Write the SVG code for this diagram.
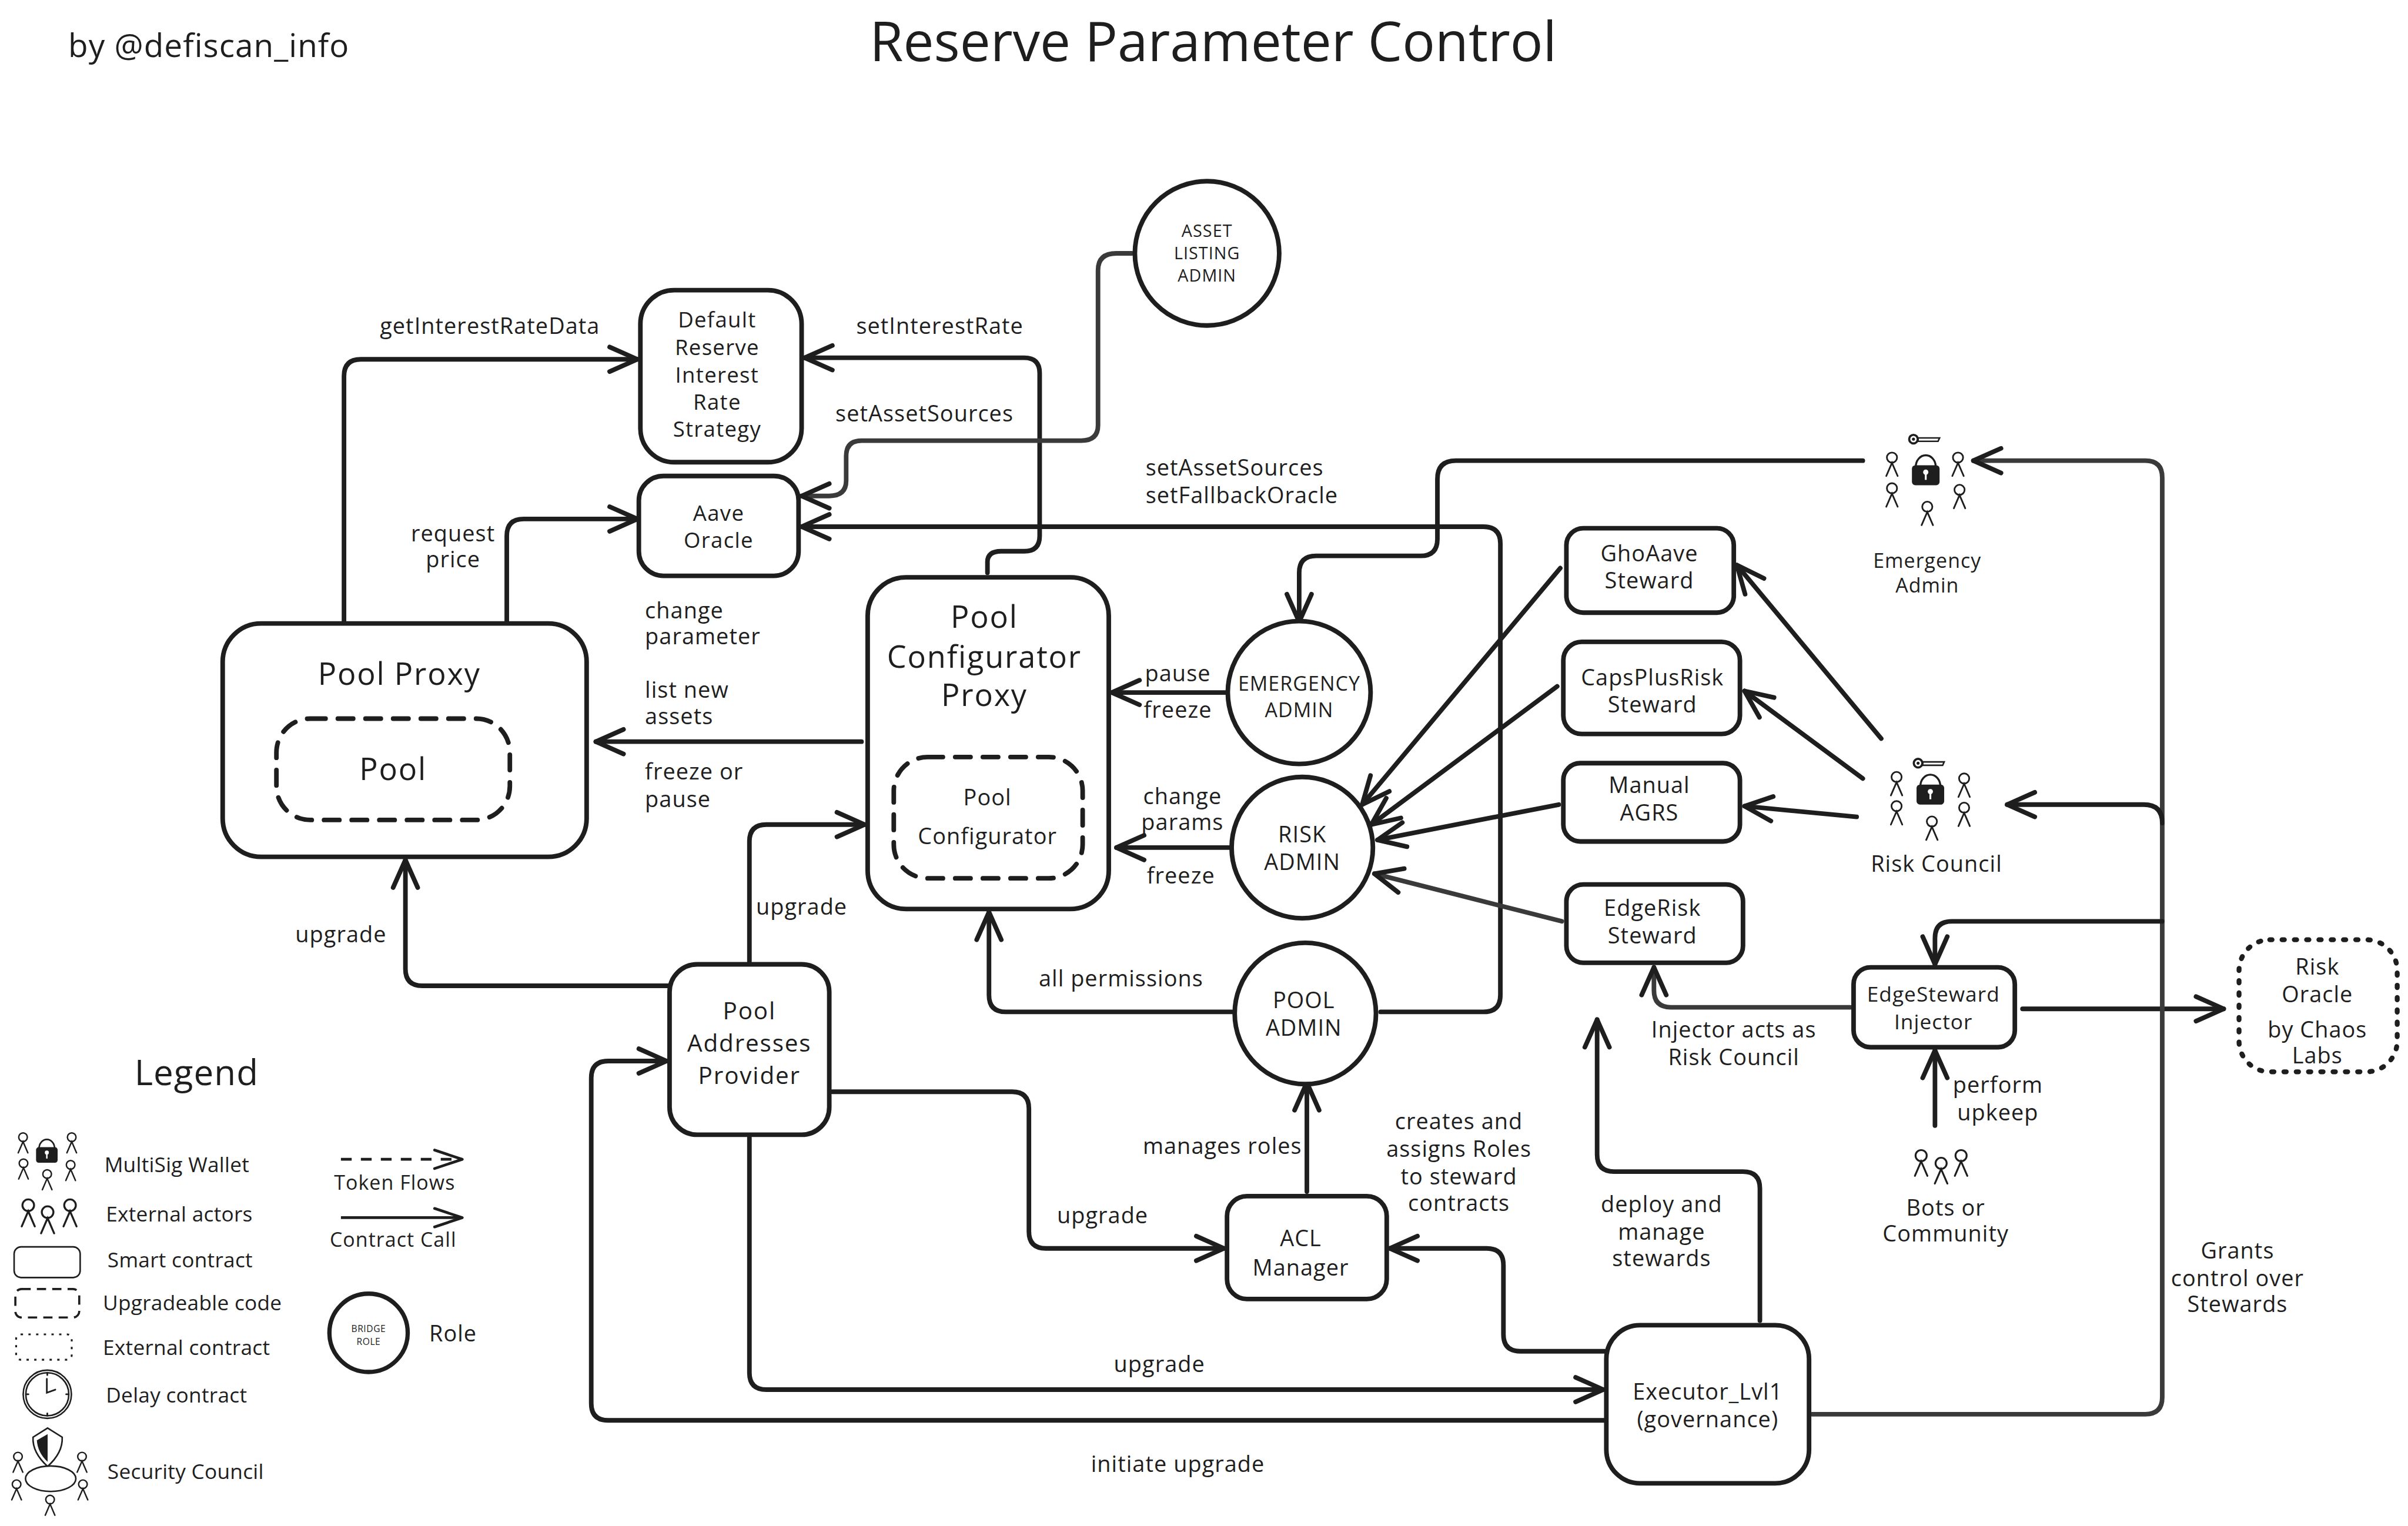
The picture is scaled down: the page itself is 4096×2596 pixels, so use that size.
<svg xmlns="http://www.w3.org/2000/svg" xmlns:xlink="http://www.w3.org/1999/xlink" width="4096" height="2596" viewBox="0 0 4096 2596">
<style>
text{font-family:"Open Sans","Noto Sans",sans-serif;fill:#1e1e1e;text-anchor:middle;dominant-baseline:central;font-size:14.5px;letter-spacing:.4px}
.l{text-anchor:start}
.s{font-size:14px;letter-spacing:.5px}
.m{font-size:15.5px;letter-spacing:.7px}
.b{font-size:20px;letter-spacing:.7px}
.k{font-size:13.5px;letter-spacing:.1px}
.box{fill:#fff;stroke:#1e1e1e;stroke-width:3}
.dash{fill:none;stroke:#1e1e1e;stroke-width:3;stroke-dasharray:10 8;stroke-linecap:round}
.dot{fill:#fff;stroke:#1e1e1e;stroke-width:3.2;stroke-dasharray:1.5 6.5;stroke-linecap:round}
.c{fill:none;stroke:#1e1e1e;stroke-width:3;stroke-linecap:round;stroke-linejoin:round}
.g{stroke:#3a3a3a}
.a{marker-end:url(#ah)}
.thin{fill:none;stroke:#1e1e1e;stroke-width:1.1;stroke-linecap:round}
</style>
<defs>
<marker id="ah" markerUnits="userSpaceOnUse" markerWidth="30" markerHeight="30" refX="21" refY="12" orient="auto" overflow="visible"><path d="M3,4 L21,12 L3,20" fill="none" stroke="#1e1e1e" stroke-width="3" stroke-linecap="round" stroke-linejoin="round"/></marker>
<marker id="ahl" markerUnits="userSpaceOnUse" markerWidth="30" markerHeight="30" refX="21" refY="12" orient="auto" overflow="visible"><path d="M3,6 L21,12 L3,18" fill="none" stroke="#1e1e1e" stroke-width="1.8" stroke-linecap="round" stroke-linejoin="round"/></marker>
<g id="person"><circle cx="0" cy="-4" r="3.3" fill="#fff" stroke="#1e1e1e" stroke-width="1.1"/><path d="M-3.7,8 L0,-0.6 L3.7,8" fill="none" stroke="#1e1e1e" stroke-width="1.1" stroke-linecap="round"/></g>
<g id="lock"><path d="M-6.5,-4 A6.5,7.5 0 0 1 6.5,-4" fill="none" stroke="#1e1e1e" stroke-width="1.3"/><rect x="-9" y="-5" width="18" height="13" rx="2.2" fill="#1e1e1e"/><circle cx="0" cy="-0.5" r="1.7" fill="#fff"/><rect x="-0.6" y="-0.5" width="1.2" height="5" fill="#fff"/></g>
<g id="key"><circle cx="-7" cy="0" r="2.8" fill="none" stroke="#1e1e1e" stroke-width="1.4"/><circle cx="-7" cy="0" r="1" fill="#1e1e1e"/><path d="M-4,-0.8 H10 L9,1.4 H-4 Z" fill="none" stroke="#1e1e1e" stroke-width="1"/></g>
</defs>
<rect width="4096" height="2596" fill="#fff"/>
<g transform="scale(2.6122)">
<g id="connectors">
<path class="c a" d="M224,405 V245 Q224,234 235,234 H415"/>
<path class="c a" d="M330,405 V349 Q330,338 341,338 H415"/>
<path class="c a" d="M643,373 V366 Q643,359 652,359 H667 Q677,359 677,349 V243 Q677,233 667,233 H524"/>
<path class="c g a" d="M737,165 H727 Q715,165 715,176 V277 Q715,287 704,287 H561 Q551,287 551,297 V313 Q551,323 540,323 H522"/>
<path class="c a" d="M899,659 H966 Q977,659 977,648 V354 Q977,343 966,343 H522"/>
<path class="c a" d="M561,483 H388"/>
<path class="c a" d="M801,451 H724"/>
<path class="c a" d="M802,552 H727"/>
<path class="c a" d="M802,659 H655 Q644,659 644,648 V594"/>
<path class="c a" d="M1213,300 H948 Q936,300 936,312 V351 Q936,362 925,362 H857 Q846,362 846,373 V405"/>
<path class="c a" d="M1225,481 L1131,368"/>
<path class="c a" d="M1213,507 L1136,450"/>
<path class="c a" d="M1209,532 L1136,525"/>
<path class="c a" d="M1016,370 L887,524"/>
<path class="c a" d="M1014,447 L893,537"/>
<path class="c a" d="M1015,524 L897,547"/>
<path class="c g a" d="M1017,600 L895,569"/>
<path class="c g a" d="M1205,656 H1088 Q1077,656 1077,645 V630"/>
<path class="c a" d="M1146,860 V774 Q1146,763 1135,763 H1051 Q1040,763 1040,752 V664"/>
<path class="c a" d="M1317,657 H1448"/>
<path class="c a" d="M1260,733 V684"/>
<path class="c g a" d="M1180,921 H1397 Q1408,921 1408,910 V311 Q1408,300 1397,300 H1285"/>
<path class="c a" d="M1408,536 Q1408,524 1396,524 H1307"/>
<path class="c a" d="M1408,600 H1271 Q1260,600 1260,611 V628"/>
<path class="c a" d="M1045,925 H396 Q385,925 385,914 V702 Q385,691 396,691 H434"/>
<path class="c a" d="M488,741 V894 Q488,905 499,905 H1044"/>
<path class="c a" d="M542,711 H659 Q670,711 670,722 V802 Q670,813 681,813 H797"/>
<path class="c a" d="M435,642 H275 Q264,642 264,631 V560"/>
<path class="c a" d="M488,626 V548 Q488,537 499,537 H563"/>
<path class="c a" d="M851,776 V705"/>
<path class="c a" d="M1045,880 H990 Q979,880 979,869 V824 Q979,813 968,813 H905"/>
</g>

<g id="labels">
<text x="319" y="212">getInterestRateData</text>
<text x="295" y="347">request</text><text x="295" y="364">price</text>
<text x="612" y="212">setInterestRate</text>
<text x="602" y="269">setAssetSources</text>
<text class="l" x="746" y="304">setAssetSources</text><text class="l" x="746" y="322">setFallbackOracle</text>
<text class="l" x="420" y="397">change</text><text class="l" x="420" y="414">parameter</text>
<text class="l" x="420" y="449">list new</text><text class="l" x="420" y="466">assets</text>
<text class="l" x="420" y="502">freeze or</text><text class="l" x="420" y="520">pause</text>
<text x="767" y="438">pause</text><text x="767" y="462">freeze</text>
<text x="770" y="518">change</text><text x="770" y="535">params</text><text x="769" y="570">freeze</text>
<text x="730" y="637">all permissions</text>
<text x="222" y="608">upgrade</text><text x="522" y="590">upgrade</text>
<text x="718" y="791">upgrade</text><text x="755" y="888">upgrade</text>
<text x="767" y="953">initiate upgrade</text>
<text x="796" y="746">manages roles</text>
<text x="950" y="730">creates and</text><text x="950" y="748">assigns Roles</text><text x="950" y="766">to steward</text><text x="950" y="783">contracts</text>
<text x="1082" y="784">deploy and</text><text x="1082" y="802">manage</text><text x="1082" y="819">stewards</text>
<text x="1129" y="670">Injector acts as</text><text x="1129" y="688">Risk Council</text>
<text x="1301" y="706">perform</text><text x="1301" y="724">upkeep</text>
<text x="1457" y="814">Grants</text><text x="1457" y="832">control over</text><text x="1457" y="849">Stewards</text>
</g>

<g id="title"><text x="790" y="26" style="font-size:35.5px;letter-spacing:0">Reserve Parameter Control</text></g>
<g id="byline"><text x="136" y="29" style="font-size:21px">by @defiscan_info</text></g>

<g id="default-reserve"><rect class="box" x="417" y="189" width="105" height="112" rx="22"/><text class="s" x="467" y="208">Default</text><text class="s" x="467" y="226">Reserve</text><text class="s" x="467" y="244">Interest</text><text class="s" x="467" y="261.5">Rate</text><text class="s" x="467" y="279">Strategy</text></g>
<g id="aave-oracle"><rect class="box" x="416" y="310" width="104" height="65" rx="16"/><text class="s" x="468" y="334">Aave</text><text class="s" x="468" y="351.5">Oracle</text></g>
<g id="pool-proxy"><rect class="box" x="145" y="406" width="237" height="152" rx="25"/><text class="b" x="260" y="438">Pool Proxy</text><rect class="dash" x="180" y="468" width="152" height="66" rx="22"/><text class="b" x="256" y="500">Pool</text></g>
<g id="pool-configurator-proxy"><rect class="box" x="565" y="376" width="157" height="216" rx="25"/><text class="b" x="641" y="401">Pool</text><text class="b" x="641" y="427">Configurator</text><text class="b" x="641" y="452">Proxy</text><rect class="dash" x="582" y="493" width="123" height="79" rx="22"/><text x="643" y="519">Pool</text><text x="643" y="544">Configurator</text></g>
<g id="asset-listing-admin"><circle class="box" cx="786" cy="165" r="47"/><text x="786" y="150" style="font-size:11px">ASSET</text><text x="786" y="164.5" style="font-size:11px">LISTING</text><text x="786" y="179" style="font-size:11px">ADMIN</text></g>
<g id="emergency-admin"><circle class="box" cx="846" cy="451" r="46.5"/><text x="846" y="445" style="font-size:13px">EMERGENCY</text><text x="846" y="462" style="font-size:13px">ADMIN</text></g>
<g id="risk-admin"><circle class="box" cx="848" cy="552" r="46"/><text x="848" y="543">RISK</text><text x="848" y="561">ADMIN</text></g>
<g id="pool-admin"><circle class="box" cx="850" cy="660" r="46"/><text x="849" y="651">POOL</text><text x="849" y="669">ADMIN</text></g>
<g id="acl-manager"><rect class="box" x="799" y="779" width="104" height="67" rx="13"/><text x="847" y="806">ACL</text><text x="847" y="825">Manager</text></g>
<g id="pool-addresses-provider"><rect class="box" x="436" y="628" width="104" height="111" rx="18"/><text class="m" x="488" y="658">Pool</text><text class="m" x="488" y="679">Addresses</text><text class="m" x="488" y="700">Provider</text></g>
<g id="executor"><rect class="box" x="1046" y="863" width="132" height="103" rx="22"/><text x="1112" y="906">Executor_Lvl1</text><text x="1112" y="924">(governance)</text></g>
<g id="gho-aave"><rect class="box" x="1020" y="344" width="109" height="55" rx="11"/><text x="1074" y="360">GhoAave</text><text x="1074" y="377.5">Steward</text></g>
<g id="caps-plus-risk"><rect class="box" x="1018" y="418" width="115" height="60" rx="12"/><text x="1076" y="441">CapsPlusRisk</text><text x="1076" y="458.5">Steward</text></g>
<g id="manual-agrs"><rect class="box" x="1018" y="497" width="115" height="51" rx="11"/><text x="1074" y="511">Manual</text><text x="1074" y="529">AGRS</text></g>
<g id="edge-risk"><rect class="box" x="1020" y="576" width="115" height="51" rx="11"/><text x="1076" y="591">EdgeRisk</text><text x="1076" y="609">Steward</text></g>
<g id="edge-injector"><rect class="box" x="1207" y="630" width="105" height="52" rx="11"/><text x="1259" y="647" style="font-size:13.5px">EdgeSteward</text><text x="1259" y="665" style="font-size:13.5px">Injector</text></g>
<g id="risk-oracle"><rect class="dot" x="1458" y="612" width="103" height="86" rx="20"/><text x="1509" y="629">Risk</text><text x="1509" y="647">Oracle</text><text x="1509" y="670">by Chaos</text><text x="1509" y="687">Labs</text></g>

<g id="emergency-multisig"><use xlink:href="#key" href="#key" x="1253" y="286"/><use href="#lock" xlink:href="#lock" x="1254" y="308"/><use href="#person" xlink:href="#person" x="1232" y="302"/><use href="#person" xlink:href="#person" x="1275" y="302"/><use href="#person" xlink:href="#person" x="1232" y="322"/><use href="#person" xlink:href="#person" x="1276" y="323"/><use href="#person" xlink:href="#person" x="1255" y="334"/><text x="1255" y="365" style="font-size:13px">Emergency</text><text x="1255" y="381" style="font-size:13px">Admin</text></g>
<g id="risk-council"><use href="#key" xlink:href="#key" x="1256" y="497"/><use href="#lock" xlink:href="#lock" x="1257" y="516"/><use href="#person" xlink:href="#person" x="1235" y="510"/><use href="#person" xlink:href="#person" x="1279" y="511"/><use href="#person" xlink:href="#person" x="1235" y="529"/><use href="#person" xlink:href="#person" x="1279" y="530"/><use href="#person" xlink:href="#person" x="1258" y="539"/><text x="1261" y="562">Risk Council</text></g>
<g id="bots-community"><use href="#person" xlink:href="#person" transform="translate(1251,757) scale(1.1)"/><use href="#person" xlink:href="#person" transform="translate(1264,762) scale(1.1)"/><use href="#person" xlink:href="#person" transform="translate(1277,757) scale(1.1)"/><text x="1267" y="786">Bots or</text><text x="1267" y="803">Community</text></g>

<g id="legend">
<text x="128" y="698" style="font-size:23px">Legend</text>
<use href="#lock" xlink:href="#lock" transform="translate(30.5,751) scale(.78)"/>
<use href="#person" xlink:href="#person" transform="translate(15,744) scale(.85)"/><use href="#person" xlink:href="#person" transform="translate(46.7,744) scale(.85)"/><use href="#person" xlink:href="#person" transform="translate(15.3,761) scale(.85)"/><use href="#person" xlink:href="#person" transform="translate(46,762) scale(.85)"/><use href="#person" xlink:href="#person" transform="translate(30.7,768) scale(.85)"/>
<text class="l k" x="68" y="758">MultiSig Wallet</text>
<use href="#person" xlink:href="#person" transform="translate(18.4,789.5) scale(1.15)"/><use href="#person" xlink:href="#person" transform="translate(31,794) scale(1.15)"/><use href="#person" xlink:href="#person" transform="translate(45.6,789.5) scale(1.15)"/>
<text class="l k" x="69" y="790">External actors</text>
<rect x="9.2" y="812" width="43" height="20" rx="4.5" fill="#fff" stroke="#1e1e1e" stroke-width="1"/>
<text class="l k" x="70" y="820">Smart contract</text>
<rect x="10" y="839.5" width="41.6" height="18.5" rx="4" fill="none" stroke="#1e1e1e" stroke-width="1.4" stroke-dasharray="6 4"/>
<text class="l k" x="67" y="848">Upgradeable code</text>
<rect x="10.5" y="869" width="36.2" height="16.5" rx="3" fill="none" stroke="#1e1e1e" stroke-width="1.2" stroke-dasharray="1.5 3.5"/>
<text class="l k" x="67" y="877">External contract</text>
<circle cx="30.8" cy="908" r="15.7" fill="none" stroke="#1e1e1e" stroke-width="1"/><circle cx="30.8" cy="908" r="14" fill="none" stroke="#1e1e1e" stroke-width="1"/><path class="thin" d="M30.5,898 V907 L36,905 M30.8,894 v1.5 M30.8,922 v-1.5 M17,908 h1.5 M44.6,908 h-1.5"/>
<text class="l k" x="69" y="908">Delay contract</text>
<path d="M31,930 L40.5,936 Q41,946 31,955 Q21,946 21.5,936 Z" fill="#fff" stroke="#1e1e1e" stroke-width="1"/><path d="M31,934 L24,938 Q24.5,946 31,952 Z" fill="#1e1e1e"/>
<ellipse cx="33" cy="963" rx="16.4" ry="8.3" fill="#fff" stroke="#1e1e1e" stroke-width="1"/>
<use href="#person" xlink:href="#person" transform="translate(11.7,952) scale(.85)"/><use href="#person" xlink:href="#person" transform="translate(53.4,952) scale(.85)"/><use href="#person" xlink:href="#person" transform="translate(10.8,970) scale(.85)"/><use href="#person" xlink:href="#person" transform="translate(54,970) scale(.85)"/><use href="#person" xlink:href="#person" transform="translate(32.6,980) scale(.85)"/>
<text class="l k" x="70" y="958">Security Council</text>
<path d="M222,755 H301" fill="none" stroke="#1e1e1e" stroke-width="1.8" stroke-dasharray="7 6" marker-end="url(#ahl)"/>
<text x="257" y="770" style="font-size:13px">Token Flows</text>
<path d="M222,793 H301" fill="none" stroke="#1e1e1e" stroke-width="1.8" marker-end="url(#ahl)"/>
<text x="256" y="807" style="font-size:13px">Contract Call</text>
<circle cx="240" cy="868" r="25.5" fill="#fff" stroke="#1e1e1e" stroke-width="2.8"/><text x="240" y="865" style="font-size:6px;letter-spacing:.2px">BRIDGE</text><text x="240" y="873.5" style="font-size:6px;letter-spacing:.2px">ROLE</text>
<text x="295" y="868">Role</text>
</g>
</g>
</svg>
